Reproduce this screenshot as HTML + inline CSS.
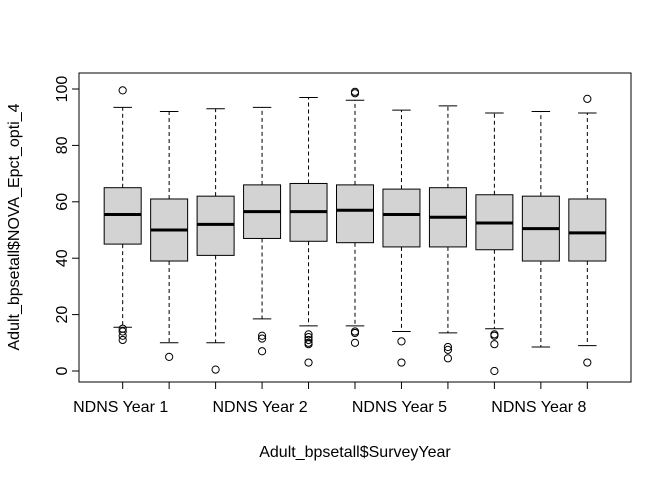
<!DOCTYPE html>
<html><head><meta charset="utf-8"><style>
body{margin:0;background:#fff}
svg{display:block;font-family:"Liberation Sans",sans-serif}
</style></head><body>
<svg id="chart" width="672" height="480"></svg>
<script>
const categories=["NDNS Year 1","NDNS Year 10","NDNS Year 11","NDNS Year 2","NDNS Year 3","NDNS Year 4","NDNS Year 5","NDNS Year 6","NDNS Year 7","NDNS Year 8","NDNS Year 9"];
const whiskerHigh=[93.5,92,93,93.5,97,96,92.5,94,91.5,92,91.5];
const q3=[65,61,62,66,66.5,66,64.5,65,62.5,62,61];
const medians=[55.5,50,52,56.5,56.5,57,55.5,54.5,52.5,50.5,49];
const q1=[45,39,41,47,46,45.5,44,44,43,39,39];
const whiskerLow=[15.5,10,10,18.5,16,16,14,13.5,15,8.5,9];
const outliers=[[99.5,15,14,12.5,11],[5],[0.5],[12.5,11.5,7],[13,12,11,10,9.5,3],[99,98.5,14,13.5,10],[10.5,3],[8.5,7.5,4.5],[13,12.5,9.5,0],[],[96.5,3]];
const yTicks=[0,20,40,60,80,100];
const shownLabels=[0,3,6,9];

const svg=document.getElementById('chart');
const NS='http://www.w3.org/2000/svg';
const L=79,R=631,T=73,B=382;
const xs=i=>L+(i+1-0.5+0.44)*((R-L)/11.88);
const ys=v=>371-v*2.82;
const bw=37;
function mk(t,a,parent){const e=document.createElementNS(NS,t);for(const k in a)e.setAttribute(k,a[k]);(parent||svg).appendChild(e);return e;}

const frame=mk('rect',{x:L,y:T,width:R-L,height:B-T,fill:'none',stroke:'#000'});



categories.forEach((c,i)=>{
  const g=mk('g',{});
  
  
  const cx=xs(i);
  mk('line',{x1:cx,x2:cx,y1:ys(q3[i]),y2:ys(whiskerHigh[i]),stroke:'#000','stroke-dasharray':'4,3'},g);
  mk('line',{x1:cx,x2:cx,y1:ys(q1[i]),y2:ys(whiskerLow[i]),stroke:'#000','stroke-dasharray':'4,3'},g);
  mk('line',{x1:cx-bw/4,x2:cx+bw/4,y1:ys(whiskerHigh[i]),y2:ys(whiskerHigh[i]),stroke:'#000'},g);
  mk('line',{x1:cx-bw/4,x2:cx+bw/4,y1:ys(whiskerLow[i]),y2:ys(whiskerLow[i]),stroke:'#000'},g);
  mk('rect',{x:cx-bw/2,y:ys(q3[i]),width:bw,height:ys(q1[i])-ys(q3[i]),fill:'#d3d3d3',stroke:'#000'},g);
  mk('line',{x1:cx-bw/2,x2:cx+bw/2,y1:ys(medians[i]),y2:ys(medians[i]),stroke:'#000','stroke-width':3},g);
  outliers[i].forEach(v=>{
    const o=mk('circle',{cx:cx,cy:ys(v),r:3.6,fill:'none',stroke:'#000'},g);
    
    
  });
  const tk=mk('line',{x1:cx,x2:cx,y1:B,y2:B+7,stroke:'#000'});
  
  
  if(shownLabels.includes(i)){
    const t=mk('text',{x:cx-2,y:B+30,'text-anchor':'middle','font-size':16});
    t.textContent=c;
    
    
  }
});
const ya=mk('line',{x1:L,x2:L,y1:ys(0),y2:ys(100),stroke:'#000'});


yTicks.forEach(v=>{
  const tk=mk('line',{x1:L-7,x2:L,y1:ys(v),y2:ys(v),stroke:'#000'});
  
  
  const t=mk('text',{x:L-12,y:ys(v),'text-anchor':'middle','font-size':16,transform:`rotate(-90 ${L-12} ${ys(v)})`});
  t.textContent=v;
  
  
});
const xt=mk('text',{x:355,y:457,'text-anchor':'middle','font-size':16});
xt.textContent='Adult_bpsetall$SurveyYear';


const yt=mk('text',{x:19,y:227,'text-anchor':'middle','font-size':16,transform:'rotate(-90 19 227)'});
yt.textContent='Adult_bpsetall$NOVA_Epct_opti_4';


</script>
</body></html>
